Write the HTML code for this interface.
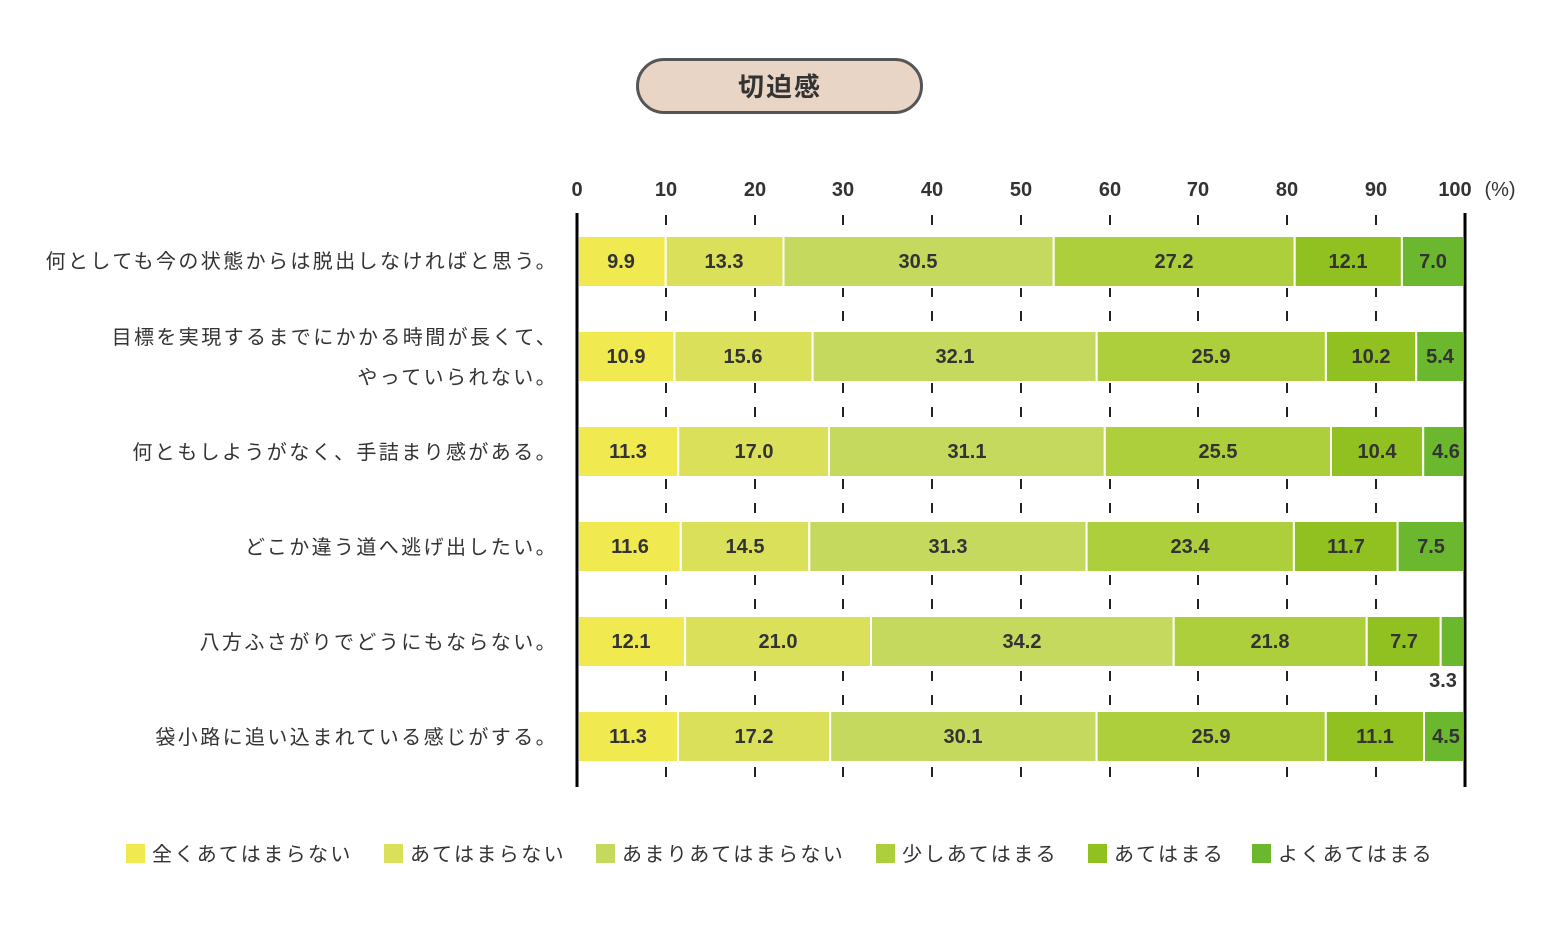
<!DOCTYPE html>
<html><head><meta charset="utf-8"><style>body{margin:0;background:#fff}svg{display:block}</style></head><body>
<svg width="1559" height="938" xmlns="http://www.w3.org/2000/svg" font-family="Liberation Sans, Noto Sans CJK JP, sans-serif">
<rect x="637.5" y="59.5" width="284" height="53" rx="26.5" fill="#e8d5c6" stroke="#555" stroke-width="3"/>
<text x="780" y="96" font-size="26" font-weight="bold" text-anchor="middle" fill="#333" letter-spacing="2">切迫感</text>
<g font-size="20" font-weight="bold" fill="#333" text-anchor="middle">
<text x="577" y="196">0</text><text x="666" y="196">10</text><text x="755" y="196">20</text><text x="843" y="196">30</text><text x="932" y="196">40</text><text x="1021" y="196">50</text><text x="1110" y="196">60</text><text x="1198" y="196">70</text><text x="1287" y="196">80</text><text x="1376" y="196">90</text><text x="1455" y="196">100</text>
<text x="1500" y="196" font-weight="normal">(%)</text>
</g>
<g stroke="#222" stroke-width="2" stroke-dasharray="10,14" stroke-dashoffset="-2">
<line x1="666" y1="213" x2="666" y2="787"/><line x1="755" y1="213" x2="755" y2="787"/><line x1="843" y1="213" x2="843" y2="787"/><line x1="932" y1="213" x2="932" y2="787"/><line x1="1021" y1="213" x2="1021" y2="787"/><line x1="1110" y1="213" x2="1110" y2="787"/><line x1="1198" y1="213" x2="1198" y2="787"/><line x1="1287" y1="213" x2="1287" y2="787"/><line x1="1376" y1="213" x2="1376" y2="787"/>
</g>
<g stroke="#fff" stroke-width="2">
<rect x="578" y="236" width="87.7" height="51" fill="#f0ea50"/><rect x="665.7" y="236" width="117.8" height="51" fill="#dbe05a"/><rect x="783.5" y="236" width="270.2" height="51" fill="#c5d95e"/><rect x="1053.7" y="236" width="241" height="51" fill="#aecf3c"/><rect x="1294.7" y="236" width="107.2" height="51" fill="#91c120"/><rect x="1401.9" y="236" width="62.1" height="51" fill="#6bb82e"/>
<rect x="578" y="331" width="96.5" height="51" fill="#f0ea50"/><rect x="674.5" y="331" width="138.1" height="51" fill="#dbe05a"/><rect x="812.6" y="331" width="284.1" height="51" fill="#c5d95e"/><rect x="1096.7" y="331" width="229.2" height="51" fill="#aecf3c"/><rect x="1325.9" y="331" width="90.3" height="51" fill="#91c120"/><rect x="1416.2" y="331" width="47.8" height="51" fill="#6bb82e"/>
<rect x="578" y="426" width="100.2" height="51" fill="#f0ea50"/><rect x="678.2" y="426" width="150.8" height="51" fill="#dbe05a"/><rect x="829" y="426" width="275.8" height="51" fill="#c5d95e"/><rect x="1104.8" y="426" width="226.2" height="51" fill="#aecf3c"/><rect x="1331" y="426" width="92.2" height="51" fill="#91c120"/><rect x="1423.2" y="426" width="40.8" height="51" fill="#6bb82e"/>
<rect x="578" y="521" width="102.8" height="51" fill="#f0ea50"/><rect x="680.8" y="521" width="128.5" height="51" fill="#dbe05a"/><rect x="809.3" y="521" width="277.3" height="51" fill="#c5d95e"/><rect x="1086.6" y="521" width="207.3" height="51" fill="#aecf3c"/><rect x="1293.9" y="521" width="103.7" height="51" fill="#91c120"/><rect x="1397.6" y="521" width="66.4" height="51" fill="#6bb82e"/>
<rect x="578" y="616" width="107.1" height="51" fill="#f0ea50"/><rect x="685.1" y="616" width="185.9" height="51" fill="#dbe05a"/><rect x="871" y="616" width="302.7" height="51" fill="#c5d95e"/><rect x="1173.7" y="616" width="193" height="51" fill="#aecf3c"/><rect x="1366.7" y="616" width="74" height="51" fill="#91c120"/><rect x="1440.7" y="616" width="23.3" height="51" fill="#6bb82e"/>
<rect x="578" y="711" width="100" height="51" fill="#f0ea50"/><rect x="678" y="711" width="152.2" height="51" fill="#dbe05a"/><rect x="830.2" y="711" width="266.4" height="51" fill="#c5d95e"/><rect x="1096.6" y="711" width="229.2" height="51" fill="#aecf3c"/><rect x="1325.8" y="711" width="98.2" height="51" fill="#91c120"/><rect x="1424" y="711" width="40" height="51" fill="#6bb82e"/>
</g>
<g font-size="20" font-weight="bold" fill="#333" text-anchor="middle">
<text x="621" y="268">9.9</text><text x="724" y="268">13.3</text><text x="918" y="268">30.5</text><text x="1174" y="268">27.2</text><text x="1348" y="268">12.1</text><text x="1433" y="268">7.0</text>
<text x="626" y="363">10.9</text><text x="743" y="363">15.6</text><text x="955" y="363">32.1</text><text x="1211" y="363">25.9</text><text x="1371" y="363">10.2</text><text x="1440" y="363">5.4</text>
<text x="628" y="458">11.3</text><text x="754" y="458">17.0</text><text x="967" y="458">31.1</text><text x="1218" y="458">25.5</text><text x="1377" y="458">10.4</text><text x="1446" y="458">4.6</text>
<text x="630" y="553">11.6</text><text x="745" y="553">14.5</text><text x="948" y="553">31.3</text><text x="1190" y="553">23.4</text><text x="1346" y="553">11.7</text><text x="1431" y="553">7.5</text>
<text x="631" y="648">12.1</text><text x="778" y="648">21.0</text><text x="1022" y="648">34.2</text><text x="1270" y="648">21.8</text><text x="1404" y="648">7.7</text><text x="1443" y="687">3.3</text>
<text x="628" y="743">11.3</text><text x="754" y="743">17.2</text><text x="963" y="743">30.1</text><text x="1211" y="743">25.9</text><text x="1375" y="743">11.1</text><text x="1446" y="743">4.5</text>
</g>
<line x1="577" y1="213" x2="577" y2="787" stroke="#000" stroke-width="3"/>
<line x1="1465" y1="213" x2="1465" y2="787" stroke="#000" stroke-width="3"/>
<g font-size="20" fill="#333" text-anchor="end" letter-spacing="2.4">
<text x="558" y="268">何としても今の状態からは脱出しなければと思う。</text>
<text x="558" y="344">目標を実現するまでにかかる時間が長くて、</text>
<text x="558" y="384">やっていられない。</text>
<text x="558" y="459">何ともしようがなく、手詰まり感がある。</text>
<text x="558" y="554">どこか違う道へ逃げ出したい。</text>
<text x="558" y="649">八方ふさがりでどうにもならない。</text>
<text x="558" y="744">袋小路に追い込まれている感じがする。</text>
</g>
<g font-size="20" fill="#333" letter-spacing="2.4">
<rect x="126" y="844" width="19" height="19" fill="#f0ea50"/><text x="152" y="861">全くあてはまらない</text>
<rect x="384" y="844" width="19" height="19" fill="#dbe05a"/><text x="410" y="861">あてはまらない</text>
<rect x="596" y="844" width="19" height="19" fill="#c5d95e"/><text x="622" y="861">あまりあてはまらない</text>
<rect x="876" y="844" width="19" height="19" fill="#aecf3c"/><text x="902" y="861">少しあてはまる</text>
<rect x="1088" y="844" width="19" height="19" fill="#91c120"/><text x="1114" y="861">あてはまる</text>
<rect x="1252" y="844" width="19" height="19" fill="#6bb82e"/><text x="1278" y="861">よくあてはまる</text>
</g>
</svg>
</body></html>
